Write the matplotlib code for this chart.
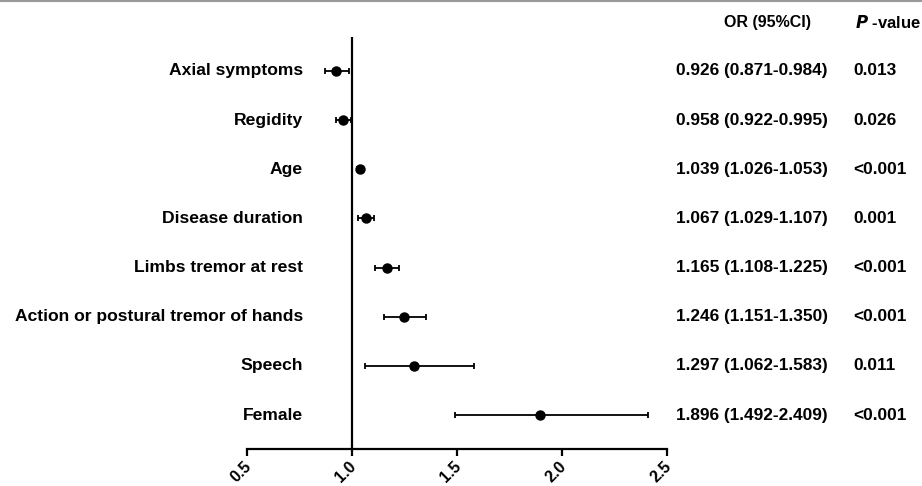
import matplotlib
matplotlib.use("Agg")
import matplotlib.pyplot as plt
from matplotlib.lines import Line2D
import matplotlib.transforms as mtransforms

labels = ["Axial symptoms", "Regidity", "Age", "Disease duration",
          "Limbs tremor at rest", "Action or postural tremor of hands",
          "Speech", "Female"]
or_vals = [0.926, 0.958, 1.039, 1.067, 1.165, 1.246, 1.297, 1.896]
ci_low = [0.871, 0.922, 1.026, 1.029, 1.108, 1.151, 1.062, 1.492]
ci_high = [0.984, 0.995, 1.053, 1.107, 1.225, 1.350, 1.583, 2.409]
or_text = ["0.926 (0.871-0.984)", "0.958 (0.922-0.995)", "1.039 (1.026-1.053)",
           "1.067 (1.029-1.107)", "1.165 (1.108-1.225)", "1.246 (1.151-1.350)",
           "1.297 (1.062-1.583)", "1.896 (1.492-2.409)"]
p_text = ["0.013", "0.026", "<0.001", "0.001", "<0.001", "<0.001", "0.011", "<0.001"]
xticks = [0.5, 1.0, 1.5, 2.0, 2.5]
xticklabels = ["0.5", "1.0", "1.5", "2.0", "2.5"]

plt.rcParams['font.family'] = ['Liberation Sans', 'DejaVu Sans']
W, H = 922, 486
fig = plt.figure(figsize=(W / 100, H / 100), dpi=100)
ax = fig.add_axes([247 / W, 1 - 449 / H, (667 - 247) / W, (449 - 37) / H])

n = len(labels)
ypos = list(range(n))
for i in range(n):
    ax.errorbar(or_vals[i], ypos[i],
                xerr=[[or_vals[i] - ci_low[i]], [ci_high[i] - or_vals[i]]],
                fmt='o', color='black', markersize=6.5, elinewidth=1.3,
                capsize=2.4, capthick=1.3, zorder=3)

ax.axvline(1.0, color='black', lw=1.6, zorder=2)
ax.set_xlim(0.5, 2.5)
ax.set_ylim(n - 1 + 0.69, -0.69)
ax.set_yticks([])
for s in ['top', 'right', 'left']:
    ax.spines[s].set_visible(False)
ax.spines['bottom'].set_linewidth(1.6)
ax.set_xticks(xticks)
ax.set_xticklabels(xticklabels, rotation=45, ha='right', fontsize=11.5,
                   fontweight='bold')
ax.tick_params(axis='x', length=5, width=1.6, pad=2)
offset = mtransforms.ScaledTranslation(7 / 100, 0, fig.dpi_scale_trans)
for lab in ax.get_xticklabels():
    lab.set_transform(lab.get_transform() + offset)

trans = mtransforms.blended_transform_factory(fig.transFigure, ax.transData)
for i in range(n):
    fig.text(303 / W, ypos[i], labels[i], transform=trans, ha='right',
             va='center', fontsize=12.6, fontweight='bold')
    fig.text(676 / W, ypos[i], or_text[i], transform=trans, ha='left',
             va='center', fontsize=12.4, fontweight='bold')
    fig.text(853 / W, ypos[i], p_text[i], transform=trans, ha='left',
             va='center', fontsize=12.4, fontweight='bold')

fig.text(767 / W, 1 - 22 / H, "OR (95%CI)", ha='center', va='center',
         fontsize=11.5, fontweight='bold')
fig.text(888 / W, 1 - 22 / H, r"$\mathbfit{P}$ -value", ha='center', va='center',
         fontsize=12, fontweight='bold')

fig.add_artist(Line2D([0, 1], [1 - 1 / H, 1 - 1 / H], transform=fig.transFigure,
                      color='#999999', lw=1.5))

fig.savefig("out.png", dpi=100)
